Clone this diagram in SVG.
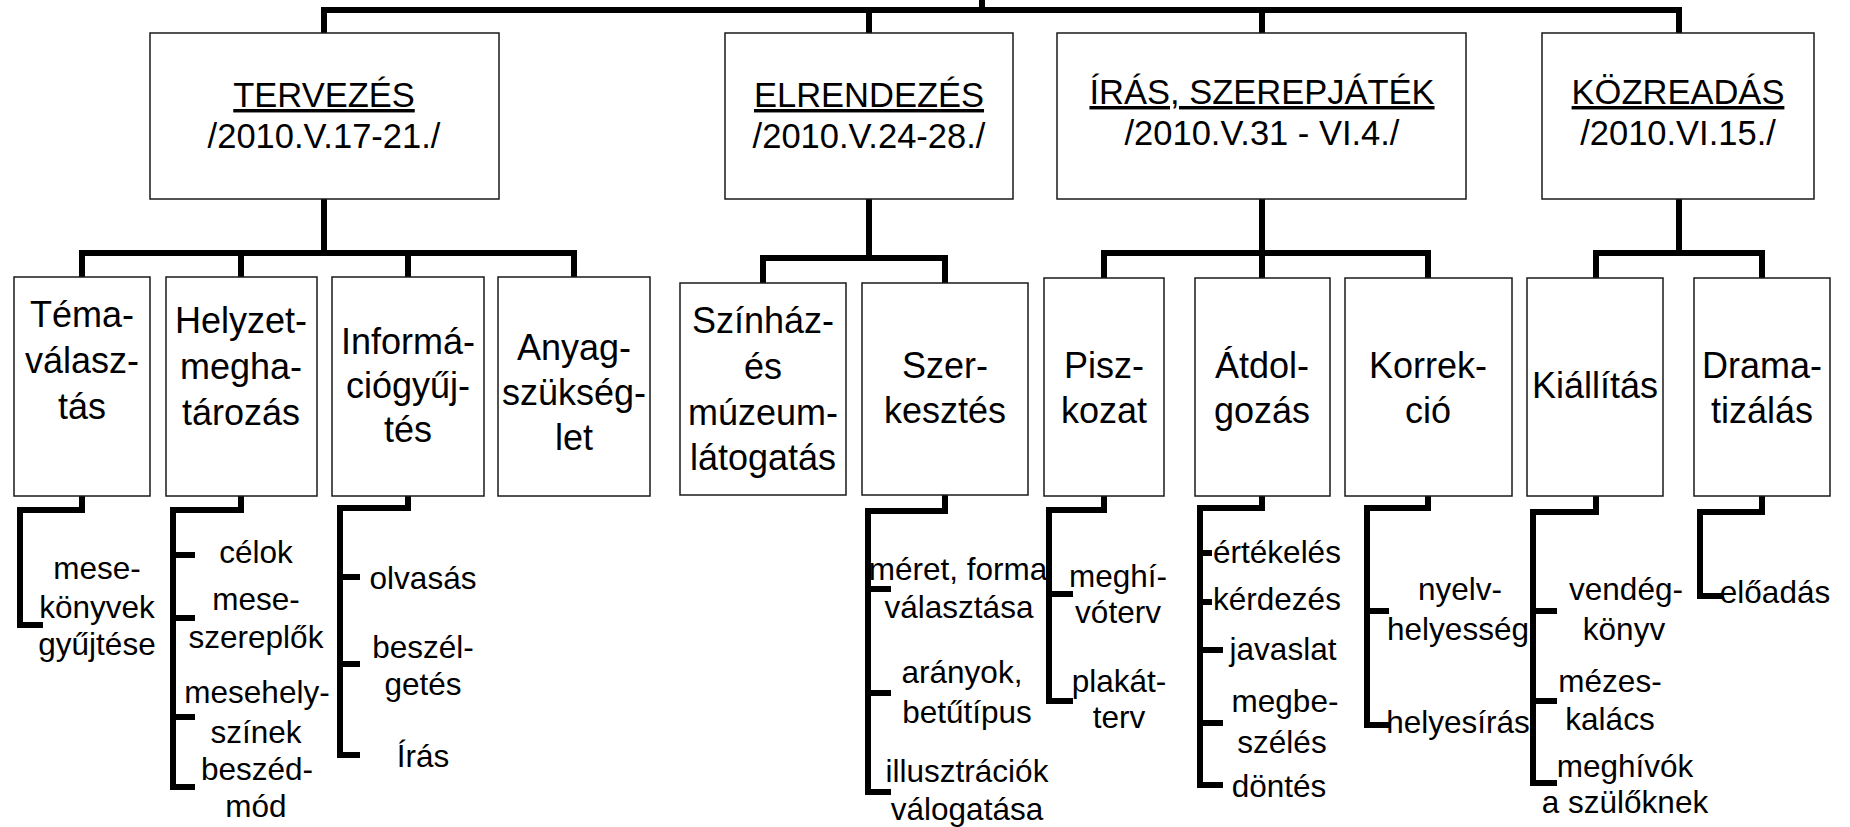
<svg xmlns="http://www.w3.org/2000/svg" width="1850" height="827" viewBox="0 0 1850 827">
<style>
.box{fill:#fff;stroke:#1a1a1a;stroke-width:1.5}
.conn{fill:none;stroke:#000;stroke-width:6;stroke-linejoin:miter;stroke-linecap:butt}
text{font-family:"Liberation Sans",Arial,sans-serif;fill:#000;text-anchor:middle}
.t1{font-size:34.5px}
.t2{font-size:36px}
.t3{font-size:31.5px}
.u{text-decoration:underline}
</style>
<rect x="0" y="0" width="1850" height="827" fill="#fff"/>
<g id="connectors" class="conn">
<path d="M982,0 V13"/>
<path d="M324,33 V10 H1679 V33"/>
<path d="M869,10 V33"/>
<path d="M1262,10 V33"/>
<path d="M324,199 V253"/>
<path d="M82,277 V253 H574 V277"/>
<path d="M241,253 V277"/>
<path d="M408,253 V277"/>
<path d="M869,199 V258"/>
<path d="M763,283 V258 H945 V283"/>
<path d="M1262,199 V278"/>
<path d="M1104,278 V253 H1428 V278"/>
<path d="M1679,199 V253"/>
<path d="M1596,278 V253 H1762 V278"/>
<path d="M82,495 V510 H20 V625 H43"/>
<path d="M241,495 V510 H173 V787 H195"/>
<path d="M173,555 H195 M173,618 H195 M173,717 H195"/>
<path d="M408,495 V508 H340 V755 H360"/>
<path d="M340,577 H360 M340,664 H360"/>
<path d="M945,495 V511 H868 V792 H891"/>
<path d="M868,589 H891 M868,693 H891"/>
<path d="M1104,495 V510 H1049 V701 H1073"/>
<path d="M1049,594 H1073"/>
<path d="M1262,495 V508 H1200 V785 H1223"/>
<path d="M1200,553 H1212 M1200,602 H1212 M1200,650 H1223 M1200,723 H1223"/>
<path d="M1428,495 V508 H1367 V725 H1389"/>
<path d="M1367,611 H1389"/>
<path d="M1596,495 V512 H1533 V783 H1557"/>
<path d="M1533,611 H1557 M1533,701 H1557"/>
<path d="M1762,495 V512 H1700 V596 H1723"/>
</g>
<g id="tervezes"><rect class="box" x="150" y="33" width="349" height="166"/>
<text class="t1 u" x="324" y="107">TERVEZÉS</text><text class="t1" x="324" y="148">/2010.V.17-21./</text></g>
<g id="elrendezes"><rect class="box" x="725" y="33" width="288" height="166"/>
<text class="t1 u" x="869" y="107">ELRENDEZÉS</text><text class="t1" x="869" y="148">/2010.V.24-28./</text></g>
<g id="iras"><rect class="box" x="1057" y="33" width="409" height="166"/>
<text class="t1 u" x="1262" y="104">ÍRÁS, SZEREPJÁTÉK</text><text class="t1" x="1262" y="145">/2010.V.31 - VI.4./</text></g>
<g id="kozreadas"><rect class="box" x="1542" y="33" width="272" height="166"/>
<text class="t1 u" x="1678" y="104">KÖZREADÁS</text><text class="t1" x="1678" y="145">/2010.VI.15./</text></g>

<g id="temavalasztas"><rect class="box" x="14" y="277" width="136" height="219"/>
<text class="t2" x="82" y="327">Téma-</text><text class="t2" x="82" y="373">válasz-</text><text class="t2" x="82" y="419">tás</text></g>
<g id="helyzet"><rect class="box" x="166" y="277" width="151" height="219"/>
<text class="t2" x="241" y="333">Helyzet-</text><text class="t2" x="241" y="379">megha-</text><text class="t2" x="241" y="425">tározás</text></g>
<g id="informacio"><rect class="box" x="332" y="277" width="152" height="219"/>
<text class="t2" x="408" y="354">Informá-</text><text class="t2" x="408" y="398">ciógyűj-</text><text class="t2" x="408" y="442">tés</text></g>
<g id="anyag"><rect class="box" x="498" y="277" width="152" height="219"/>
<text class="t2" x="574" y="360">Anyag-</text><text class="t2" x="574" y="405">szükség-</text><text class="t2" x="574" y="450">let</text></g>
<g id="szinhaz"><rect class="box" x="680" y="283" width="166" height="212"/>
<text class="t2" x="763" y="333">Színház-</text><text class="t2" x="763" y="379">és</text><text class="t2" x="763" y="425">múzeum-</text><text class="t2" x="763" y="470">látogatás</text></g>
<g id="szerkesztes"><rect class="box" x="862" y="283" width="166" height="212"/>
<text class="t2" x="945" y="378">Szer-</text><text class="t2" x="945" y="423">kesztés</text></g>
<g id="piszkozat"><rect class="box" x="1044" y="278" width="120" height="218"/>
<text class="t2" x="1104" y="378">Pisz-</text><text class="t2" x="1104" y="423">kozat</text></g>
<g id="atdolgozas"><rect class="box" x="1195" y="278" width="135" height="218"/>
<text class="t2" x="1262" y="378">Átdol-</text><text class="t2" x="1262" y="423">gozás</text></g>
<g id="korrekcio"><rect class="box" x="1345" y="278" width="167" height="218"/>
<text class="t2" x="1428" y="378">Korrek-</text><text class="t2" x="1428" y="423">ció</text></g>
<g id="kiallitas"><rect class="box" x="1527" y="278" width="136" height="218"/>
<text class="t2" x="1595" y="398">Kiállítás</text></g>
<g id="dramatizalas"><rect class="box" x="1694" y="278" width="136" height="218"/>
<text class="t2" x="1762" y="378">Drama-</text><text class="t2" x="1762" y="423">tizálás</text></g>

<g id="l3-tema"><text class="t3" x="97" y="579">mese-</text><text class="t3" x="97" y="618">könyvek</text><text class="t3" x="97" y="655">gyűjtése</text></g>
<g id="l3-celok"><text class="t3" x="256" y="563">célok</text></g>
<g id="l3-meseszereplok"><text class="t3" x="256" y="610">mese-</text><text class="t3" x="256" y="648">szereplők</text></g>
<g id="l3-mesehelyszinek"><text class="t3" x="257" y="703">mesehely-</text><text class="t3" x="256" y="743">színek</text></g>
<g id="l3-beszedmod"><text class="t3" x="257" y="780">beszéd-</text><text class="t3" x="256" y="817">mód</text></g>
<g id="l3-olvasas"><text class="t3" x="423" y="589">olvasás</text></g>
<g id="l3-beszelgetes"><text class="t3" x="423" y="658">beszél-</text><text class="t3" x="423" y="695">getés</text></g>
<g id="l3-iras"><text class="t3" x="423" y="767">Írás</text></g>
<g id="l3-meret"><text class="t3" x="958" y="580">méret, forma</text><text class="t3" x="959" y="618">választása</text></g>
<g id="l3-aranyok"><text class="t3" x="962" y="683">arányok,</text><text class="t3" x="967" y="723">betűtípus</text></g>
<g id="l3-illusztraciok"><text class="t3" x="967" y="782">illusztrációk</text><text class="t3" x="967" y="820">válogatása</text></g>
<g id="l3-meghivoterv"><text class="t3" x="1118" y="587">meghí-</text><text class="t3" x="1118" y="623">vóterv</text></g>
<g id="l3-plakatterv"><text class="t3" x="1119" y="692">plakát-</text><text class="t3" x="1119" y="728">terv</text></g>
<g id="l3-ertekeles"><text class="t3" x="1277" y="563">értékelés</text></g>
<g id="l3-kerdezes"><text class="t3" x="1277" y="610">kérdezés</text></g>
<g id="l3-javaslat"><text class="t3" x="1283" y="660">javaslat</text></g>
<g id="l3-megbeszeles"><text class="t3" x="1285" y="712">megbe-</text><text class="t3" x="1282" y="753">szélés</text></g>
<g id="l3-dontes"><text class="t3" x="1279" y="797">döntés</text></g>
<g id="l3-nyelvhelyesseg"><text class="t3" x="1460" y="600">nyelv-</text><text class="t3" x="1458" y="640">helyesség</text></g>
<g id="l3-helyesiras"><text class="t3" x="1458" y="733">helyesírás</text></g>
<g id="l3-vendegkonyv"><text class="t3" x="1626" y="600">vendég-</text><text class="t3" x="1624" y="640">könyv</text></g>
<g id="l3-mezeskalacs"><text class="t3" x="1610" y="692">mézes-</text><text class="t3" x="1610" y="730">kalács</text></g>
<g id="l3-meghivok"><text class="t3" x="1625" y="777">meghívók</text><text class="t3" x="1625" y="813">a szülőknek</text></g>
<g id="l3-eloadas"><text class="t3" x="1775" y="603">előadás</text></g>
</svg>
